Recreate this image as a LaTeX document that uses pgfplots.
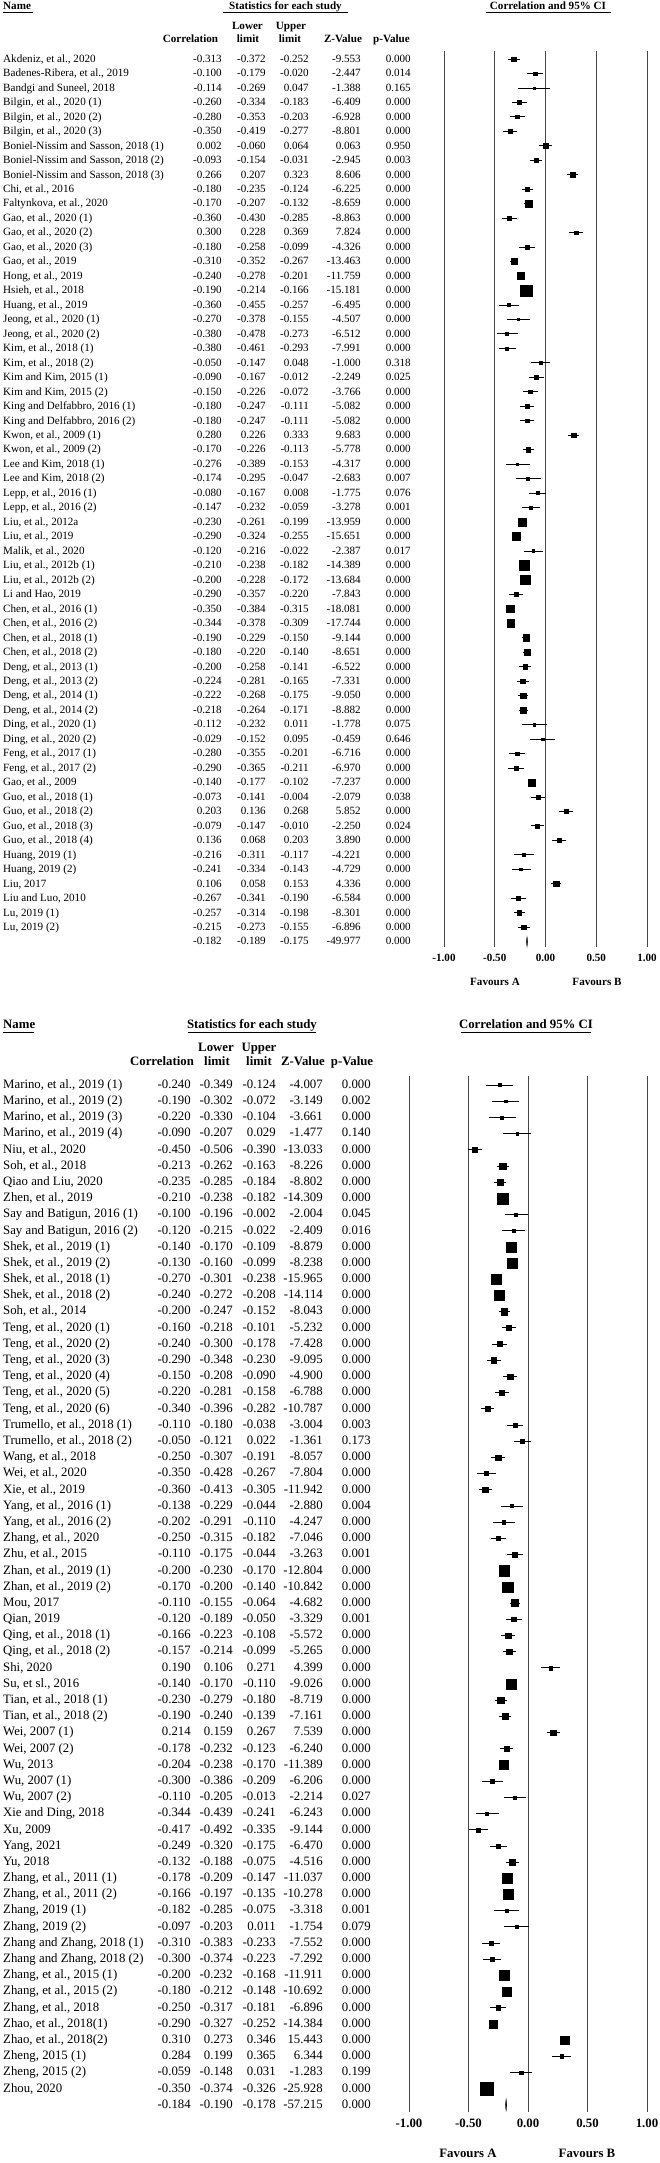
\documentclass[border=0pt]{standalone}
\usepackage{fontspec}
\setmainfont{Liberation Serif}
\usepackage{pgfplots}
\usepackage{pgfplotstable}
\pgfplotsset{compat=1.18}
\newcommand\ftop{\fontsize{11.1}{13}\selectfont}
\newcommand\fbot{\fontsize{12.8}{15}\selectfont}

\pgfplotstableread[col sep=semicolon]{
name;r;lo;hi;z;p
Akdeniz, et al., 2020;-0.313;-0.372;-0.252;-9.553;0.000
Badenes-Ribera, et al., 2019;-0.100;-0.179;-0.020;-2.447;0.014
Bandgi and Suneel, 2018;-0.114;-0.269;0.047;-1.388;0.165
Bilgin, et al., 2020 (1);-0.260;-0.334;-0.183;-6.409;0.000
Bilgin, et al., 2020 (2);-0.280;-0.353;-0.203;-6.928;0.000
Bilgin, et al., 2020 (3);-0.350;-0.419;-0.277;-8.801;0.000
Boniel-Nissim and Sasson, 2018 (1);0.002;-0.060;0.064;0.063;0.950
Boniel-Nissim and Sasson, 2018 (2);-0.093;-0.154;-0.031;-2.945;0.003
Boniel-Nissim and Sasson, 2018 (3);0.266;0.207;0.323;8.606;0.000
Chi, et al., 2016;-0.180;-0.235;-0.124;-6.225;0.000
Faltynkova, et al., 2020;-0.170;-0.207;-0.132;-8.659;0.000
Gao, et al., 2020 (1);-0.360;-0.430;-0.285;-8.863;0.000
Gao, et al., 2020 (2);0.300;0.228;0.369;7.824;0.000
Gao, et al., 2020 (3);-0.180;-0.258;-0.099;-4.326;0.000
Gao, et al., 2019;-0.310;-0.352;-0.267;-13.463;0.000
Hong, et al., 2019;-0.240;-0.278;-0.201;-11.759;0.000
Hsieh, et al., 2018;-0.190;-0.214;-0.166;-15.181;0.000
Huang, et al., 2019;-0.360;-0.455;-0.257;-6.495;0.000
Jeong, et al., 2020 (1);-0.270;-0.378;-0.155;-4.507;0.000
Jeong, et al., 2020 (2);-0.380;-0.478;-0.273;-6.512;0.000
Kim, et al., 2018 (1);-0.380;-0.461;-0.293;-7.991;0.000
Kim, et al., 2018 (2);-0.050;-0.147;0.048;-1.000;0.318
Kim and Kim, 2015 (1);-0.090;-0.167;-0.012;-2.249;0.025
Kim and Kim, 2015 (2);-0.150;-0.226;-0.072;-3.766;0.000
King and Delfabbro, 2016 (1);-0.180;-0.247;-0.111;-5.082;0.000
King and Delfabbro, 2016 (2);-0.180;-0.247;-0.111;-5.082;0.000
Kwon, et al., 2009 (1);0.280;0.226;0.333;9.683;0.000
Kwon, et al., 2009 (2);-0.170;-0.226;-0.113;-5.778;0.000
Lee and Kim, 2018 (1);-0.276;-0.389;-0.153;-4.317;0.000
Lee and Kim, 2018 (2);-0.174;-0.295;-0.047;-2.683;0.007
Lepp, et al., 2016 (1);-0.080;-0.167;0.008;-1.775;0.076
Lepp, et al., 2016 (2);-0.147;-0.232;-0.059;-3.278;0.001
Liu, et al., 2012a;-0.230;-0.261;-0.199;-13.959;0.000
Liu, et al., 2019;-0.290;-0.324;-0.255;-15.651;0.000
Malik, et al., 2020;-0.120;-0.216;-0.022;-2.387;0.017
Liu, et al., 2012b (1);-0.210;-0.238;-0.182;-14.389;0.000
Liu, et al., 2012b (2);-0.200;-0.228;-0.172;-13.684;0.000
Li and Hao, 2019;-0.290;-0.357;-0.220;-7.843;0.000
Chen, et al., 2016 (1);-0.350;-0.384;-0.315;-18.081;0.000
Chen, et al., 2016 (2);-0.344;-0.378;-0.309;-17.744;0.000
Chen, et al., 2018 (1);-0.190;-0.229;-0.150;-9.144;0.000
Chen, et al., 2018 (2);-0.180;-0.220;-0.140;-8.651;0.000
Deng, et al., 2013 (1);-0.200;-0.258;-0.141;-6.522;0.000
Deng, et al., 2013 (2);-0.224;-0.281;-0.165;-7.331;0.000
Deng, et al., 2014 (1);-0.222;-0.268;-0.175;-9.050;0.000
Deng, et al., 2014 (2);-0.218;-0.264;-0.171;-8.882;0.000
Ding, et al., 2020 (1);-0.112;-0.232;0.011;-1.778;0.075
Ding, et al., 2020 (2);-0.029;-0.152;0.095;-0.459;0.646
Feng, et al., 2017 (1);-0.280;-0.355;-0.201;-6.716;0.000
Feng, et al., 2017 (2);-0.290;-0.365;-0.211;-6.970;0.000
Gao, et al., 2009;-0.140;-0.177;-0.102;-7.237;0.000
Guo, et al., 2018 (1);-0.073;-0.141;-0.004;-2.079;0.038
Guo, et al., 2018 (2);0.203;0.136;0.268;5.852;0.000
Guo, et al., 2018 (3);-0.079;-0.147;-0.010;-2.250;0.024
Guo, et al., 2018 (4);0.136;0.068;0.203;3.890;0.000
Huang, 2019 (1);-0.216;-0.311;-0.117;-4.221;0.000
Huang, 2019 (2);-0.241;-0.334;-0.143;-4.729;0.000
Liu, 2017;0.106;0.058;0.153;4.336;0.000
Liu and Luo, 2010;-0.267;-0.341;-0.190;-6.584;0.000
Lu, 2019 (1);-0.257;-0.314;-0.198;-8.301;0.000
Lu, 2019 (2);-0.215;-0.273;-0.155;-6.896;0.000
}\toptab

\pgfplotstableread[col sep=semicolon]{
name;r;lo;hi;z;p
Marino, et al., 2019 (1);-0.240;-0.349;-0.124;-4.007;0.000
Marino, et al., 2019 (2);-0.190;-0.302;-0.072;-3.149;0.002
Marino, et al., 2019 (3);-0.220;-0.330;-0.104;-3.661;0.000
Marino, et al., 2019 (4);-0.090;-0.207;0.029;-1.477;0.140
Niu, et al., 2020;-0.450;-0.506;-0.390;-13.033;0.000
Soh, et al., 2018;-0.213;-0.262;-0.163;-8.226;0.000
Qiao and Liu, 2020;-0.235;-0.285;-0.184;-8.802;0.000
Zhen, et al., 2019;-0.210;-0.238;-0.182;-14.309;0.000
Say and Batigun, 2016 (1);-0.100;-0.196;-0.002;-2.004;0.045
Say and Batigun, 2016 (2);-0.120;-0.215;-0.022;-2.409;0.016
Shek, et al., 2019 (1);-0.140;-0.170;-0.109;-8.879;0.000
Shek, et al., 2019 (2);-0.130;-0.160;-0.099;-8.238;0.000
Shek, et al., 2018 (1);-0.270;-0.301;-0.238;-15.965;0.000
Shek, et al., 2018 (2);-0.240;-0.272;-0.208;-14.114;0.000
Soh, et al., 2014;-0.200;-0.247;-0.152;-8.043;0.000
Teng, et al., 2020 (1);-0.160;-0.218;-0.101;-5.232;0.000
Teng, et al., 2020 (2);-0.240;-0.300;-0.178;-7.428;0.000
Teng, et al., 2020 (3);-0.290;-0.348;-0.230;-9.095;0.000
Teng, et al., 2020 (4);-0.150;-0.208;-0.090;-4.900;0.000
Teng, et al., 2020 (5);-0.220;-0.281;-0.158;-6.788;0.000
Teng, et al., 2020 (6);-0.340;-0.396;-0.282;-10.787;0.000
Trumello, et al., 2018 (1);-0.110;-0.180;-0.038;-3.004;0.003
Trumello, et al., 2018 (2);-0.050;-0.121;0.022;-1.361;0.173
Wang, et al., 2018;-0.250;-0.307;-0.191;-8.057;0.000
Wei, et al., 2020;-0.350;-0.428;-0.267;-7.804;0.000
Xie, et al., 2019;-0.360;-0.413;-0.305;-11.942;0.000
Yang, et al., 2016 (1);-0.138;-0.229;-0.044;-2.880;0.004
Yang, et al., 2016 (2);-0.202;-0.291;-0.110;-4.247;0.000
Zhang, et al., 2020;-0.250;-0.315;-0.182;-7.046;0.000
Zhu, et al., 2015;-0.110;-0.175;-0.044;-3.263;0.001
Zhan, et al., 2019 (1);-0.200;-0.230;-0.170;-12.804;0.000
Zhan, et al., 2019 (2);-0.170;-0.200;-0.140;-10.842;0.000
Mou, 2017;-0.110;-0.155;-0.064;-4.682;0.000
Qian, 2019;-0.120;-0.189;-0.050;-3.329;0.001
Qing, et al., 2018 (1);-0.166;-0.223;-0.108;-5.572;0.000
Qing, et al., 2018 (2);-0.157;-0.214;-0.099;-5.265;0.000
Shi, 2020;0.190;0.106;0.271;4.399;0.000
Su, et sl., 2016;-0.140;-0.170;-0.110;-9.026;0.000
Tian, et al., 2018 (1);-0.230;-0.279;-0.180;-8.719;0.000
Tian, et al., 2018 (2);-0.190;-0.240;-0.139;-7.161;0.000
Wei, 2007 (1);0.214;0.159;0.267;7.539;0.000
Wei, 2007 (2);-0.178;-0.232;-0.123;-6.240;0.000
Wu, 2013;-0.204;-0.238;-0.170;-11.389;0.000
Wu, 2007 (1);-0.300;-0.386;-0.209;-6.206;0.000
Wu, 2007 (2);-0.110;-0.205;-0.013;-2.214;0.027
Xie and Ding, 2018;-0.344;-0.439;-0.241;-6.243;0.000
Xu, 2009;-0.417;-0.492;-0.335;-9.144;0.000
Yang, 2021;-0.249;-0.320;-0.175;-6.470;0.000
Yu, 2018;-0.132;-0.188;-0.075;-4.516;0.000
Zhang, et al., 2011 (1);-0.178;-0.209;-0.147;-11.037;0.000
Zhang, et al., 2011 (2);-0.166;-0.197;-0.135;-10.278;0.000
Zhang, 2019 (1);-0.182;-0.285;-0.075;-3.318;0.001
Zhang, 2019 (2);-0.097;-0.203;0.011;-1.754;0.079
Zhang and Zhang, 2018 (1);-0.310;-0.383;-0.233;-7.552;0.000
Zhang and Zhang, 2018 (2);-0.300;-0.374;-0.223;-7.292;0.000
Zhang, et al., 2015 (1);-0.200;-0.232;-0.168;-11.911;0.000
Zhang, et al., 2015 (2);-0.180;-0.212;-0.148;-10.692;0.000
Zhang, et al., 2018;-0.250;-0.317;-0.181;-6.896;0.000
Zhao, et al., 2018(1);-0.290;-0.327;-0.252;-14.384;0.000
Zhao, et al., 2018(2);0.310;0.273;0.346;15.443;0.000
Zheng, 2015 (1);0.284;0.199;0.365;6.344;0.000
Zheng, 2015 (2);-0.059;-0.148;0.031;-1.283;0.199
Zhou, 2020;-0.350;-0.374;-0.326;-25.928;0.000
}\bottab

\pgfplotsset{
  txt/.style n args={3}{draw=none, mark=none, point meta=explicit symbolic,
    nodes near coords={\pgfplotspointmeta},
    every node near coord/.append style={anchor=#1, xshift=#2, inner sep=0pt,
      text height=0.66em, text depth=0pt, font=#3, text=black}},
  forest/.style={clip=false, scale only axis, xmin=-1, xmax=1,
    axis line style={draw=none}, tick style={draw=none}, ytick=\empty,
    xtick={-1,-0.5,0,0.5,1}, xticklabels={-1.00,-0.50,0.00,0.50,1.00},
    xmajorgrids, grid style={black!72, line width=0.9pt}},
}
\tikzset{
  cell/.style={inner sep=0pt, text height=0.66em, text depth=0pt},
  hb/.style={cell, font=\bfseries\ftop},
  hB/.style={cell, font=\bfseries\fbot},
  tt/.style={cell, font=\ftop},
  tB/.style={cell, font=\fbot},
}

\begin{document}
\begin{tikzpicture}[x=1pt,y=1pt]
\path[use as bounding box, fill=white] (0,0) rectangle (659,-2163);

% ---------- top panel headers ----------
\node[hb, anchor=west] at (3,-6) {Name};
\node[hb] at (285.5,-6) {Statistics for each study};
\node[hb] at (548,-6) {Correlation and 95\% CI};
\draw[line width=0.8pt] (3,-12.7) -- (33,-12.7);
\draw[line width=0.8pt] (223,-12.7) -- (348,-12.7);
\draw[line width=0.8pt] (486,-12.7) -- (611,-12.7);
\node[hb] at (247.5,-26) {Lower};
\node[hb] at (248,-39) {limit};
\node[hb] at (291,-26) {Upper};
\node[hb] at (290,-39) {limit};
\node[hb] at (190.5,-39) {Correlation};
\node[hb] at (343,-39) {Z-Value};
\node[hb] at (391.5,-39) {p-Value};
\node[hb] at (495,-982) {Favours A};
\node[hb] at (597,-982) {Favours B};

\begin{axis}[forest, at={(444pt,-51pt)}, anchor=north west,
  width=203pt, height=895.7pt, ymin=-62.35, ymax=-0.45,
  xticklabel style={anchor=center, yshift=-11pt, inner sep=0pt,
    text height=0.66em, text depth=0pt, font=\bfseries\ftop}]
\addplot[black, only marks, mark=square*, scatter,
  scatter/use mapped color={draw=black, fill=black},
  visualization depends on={max(1.2,0.265/(\thisrow{hi}-\thisrow{lo}))\as\ms},
  scatter/@pre marker code/.append style={/tikz/mark size=\ms pt},
  error bars/.cd, x dir=both, x explicit, error mark=none,
  error bar style={line width=0.8pt, black}]
  table[x=r, y expr=-\coordindex-1,
    x error plus expr=\thisrow{hi}-\thisrow{r},
    x error minus expr=\thisrow{r}-\thisrow{lo}] {\toptab};
\addplot[fill=black, draw=black, line width=0.3pt]
  coordinates {(-0.189,-62) (-0.182,-61.65) (-0.175,-62) (-0.182,-62.35)} -- cycle;
\addplot[txt={west}{-441pt}{\ftop}] table[x expr=-1, y expr=-\coordindex-1, meta=name] {\toptab};
\addplot[txt={east}{-222pt}{\ftop}] table[x expr=-1, y expr=-\coordindex-1, meta=r] {\toptab};
\addplot[txt={east}{-178pt}{\ftop}] table[x expr=-1, y expr=-\coordindex-1, meta=lo] {\toptab};
\addplot[txt={east}{-135pt}{\ftop}] table[x expr=-1, y expr=-\coordindex-1, meta=hi] {\toptab};
\addplot[txt={east}{-83pt}{\ftop}] table[x expr=-1, y expr=-\coordindex-1, meta=z] {\toptab};
\addplot[txt={east}{-33pt}{\ftop}] table[x expr=-1, y expr=-\coordindex-1, meta=p] {\toptab};
\node[tt, anchor=east, xshift=-222pt] at (axis cs:-1,-62) {-0.182};
\node[tt, anchor=east, xshift=-178pt] at (axis cs:-1,-62) {-0.189};
\node[tt, anchor=east, xshift=-135pt] at (axis cs:-1,-62) {-0.175};
\node[tt, anchor=east, xshift=-83pt] at (axis cs:-1,-62) {-49.977};
\node[tt, anchor=east, xshift=-33pt] at (axis cs:-1,-62) {0.000};
\end{axis}

% ---------- bottom panel headers ----------
\node[hB, anchor=west] at (3,-1025) {Name};
\node[hB] at (252,-1025) {Statistics for each study};
\node[hB] at (526,-1025) {Correlation and 95\% CI};
\draw[line width=0.8pt] (3,-1032.7) -- (34,-1032.7);
\draw[line width=0.8pt] (188,-1032.7) -- (316,-1032.7);
\draw[line width=0.8pt] (461,-1032.7) -- (591,-1032.7);
\node[hB] at (216,-1048) {Lower};
\node[hB] at (217,-1062) {limit};
\node[hB] at (259,-1048) {Upper};
\node[hB] at (259,-1062) {limit};
\node[hB] at (162,-1062) {Correlation};
\node[hB] at (303,-1062) {Z-Value};
\node[hB] at (352,-1062) {p-Value};
\node[hB] at (468,-2154) {Favours A};
\node[hB] at (587,-2154) {Favours B};

\begin{axis}[forest, at={(409pt,-1076pt)}, anchor=north west,
  width=238pt, height=1035.9pt, ymin=-64.43, ymax=-0.444,
  xticklabel style={anchor=center, yshift=-12pt, inner sep=0pt,
    text height=0.66em, text depth=0pt, font=\bfseries\fbot}]
\addplot[black, only marks, mark=square*, scatter,
  scatter/use mapped color={draw=black, fill=black},
  visualization depends on={max(1.4,0.31/(\thisrow{hi}-\thisrow{lo}))\as\ms},
  scatter/@pre marker code/.append style={/tikz/mark size=\ms pt},
  error bars/.cd, x dir=both, x explicit, error mark=none,
  error bar style={line width=0.8pt, black}]
  table[x=r, y expr=-\coordindex-1,
    x error plus expr=\thisrow{hi}-\thisrow{r},
    x error minus expr=\thisrow{r}-\thisrow{lo}] {\bottab};
\addplot[fill=black, draw=black, line width=0.3pt]
  coordinates {(-0.190,-64) (-0.184,-63.62) (-0.178,-64) (-0.184,-64.38)} -- cycle;
\addplot[txt={west}{-406pt}{\fbot}] table[x expr=-1, y expr=-\coordindex-1, meta=name] {\bottab};
\addplot[txt={east}{-218pt}{\fbot}] table[x expr=-1, y expr=-\coordindex-1, meta=r] {\bottab};
\addplot[txt={east}{-176pt}{\fbot}] table[x expr=-1, y expr=-\coordindex-1, meta=lo] {\bottab};
\addplot[txt={east}{-133pt}{\fbot}] table[x expr=-1, y expr=-\coordindex-1, meta=hi] {\bottab};
\addplot[txt={east}{-86pt}{\fbot}] table[x expr=-1, y expr=-\coordindex-1, meta=z] {\bottab};
\addplot[txt={east}{-38pt}{\fbot}] table[x expr=-1, y expr=-\coordindex-1, meta=p] {\bottab};
\node[tB, anchor=east, xshift=-218pt] at (axis cs:-1,-64) {-0.184};
\node[tB, anchor=east, xshift=-176pt] at (axis cs:-1,-64) {-0.190};
\node[tB, anchor=east, xshift=-133pt] at (axis cs:-1,-64) {-0.178};
\node[tB, anchor=east, xshift=-86pt] at (axis cs:-1,-64) {-57.215};
\node[tB, anchor=east, xshift=-38pt] at (axis cs:-1,-64) {0.000};
\end{axis}
\end{tikzpicture}
\end{document}
